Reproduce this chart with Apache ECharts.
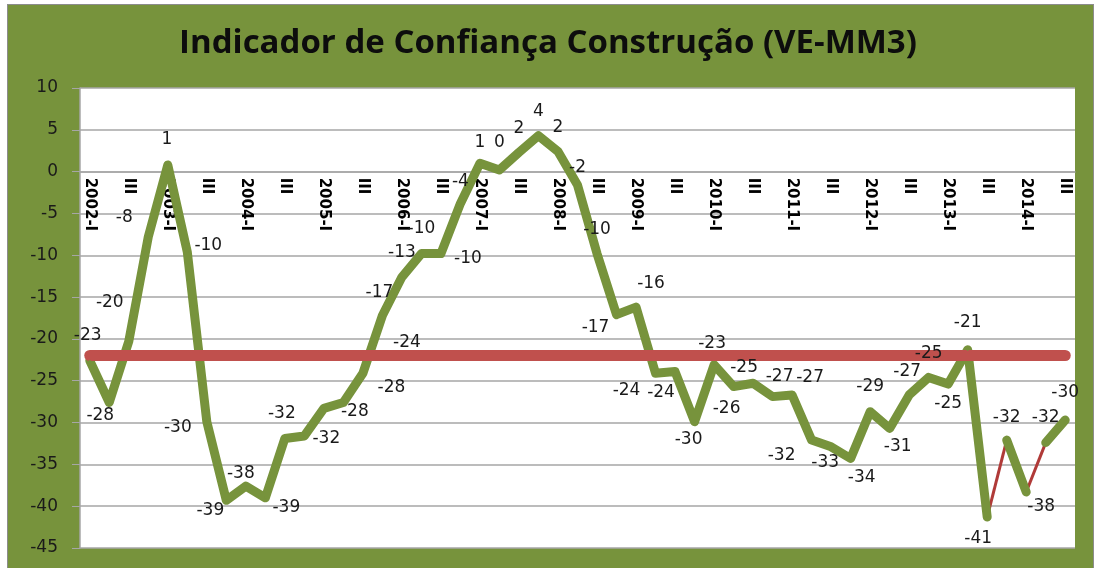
<!DOCTYPE html>
<html>
<head>
<meta charset="utf-8">
<script src="https://cdn.jsdelivr.net/npm/echarts@6/dist/echarts.min.js"></script>
<style>
html, body { margin: 0; padding: 0; background: #fff; }
#frame { position: absolute; left: 7px; top: 4px; width: 1085px; height: 570px; background: #77933C; border: 1px solid #8c8c8c; }
#chart { position: absolute; left: 0; top: 0; width: 1096px; height: 568px; }
</style>
</head>
<body>
<div id="frame"></div>
<div id="chart"></div>
<script>
// quarterly series, 2002-I .. 2014-III
var years = [2002, 2003, 2004, 2005, 2006, 2007, 2008, 2009, 2010, 2011, 2012, 2013, 2014];
var quarters = ['I', 'II', 'III', 'IV'];
var values = [
  -22.6, -27.6, -20.3, -7.8, 0.8, -9.6, -29.9, -39.3, -37.6, -39.0,
  -31.9, -31.6, -28.3, -27.6, -24.1, -17.2, -12.6, -9.8, -9.8, -3.8,
  1.0, 0.2, 2.3, 4.3, 2.4, -1.6, -9.8, -17.1, -16.2, -24.1,
  -23.9, -29.9, -23.1, -25.7, -25.3, -26.9, -26.7, -32.1, -32.9, -34.3,
  -28.7, -30.7, -26.7, -24.6, -25.4, -21.3, -41.3, -32.1, -38.3, -32.4,
  -29.7
];
var average = -22;

// green (thick) and red (thin) pieces of the line, as [from, to] indexes
var thickParts = [[0, 46], [47, 48], [49, 50]];
var thinParts = [[46, 47], [48, 49]];

// where each data label sits relative to its point, in px
var labelOffsets = [
  [-2, -25], [-9, 13], [-19, -39], [-24, -19], [-1, -25], [21, -6], [-29, 6], [-16, 10], [-5, -13], [21, 10],
  [-3, -25], [22, 3], [31, 3], [48, -15], [44, -31], [-3, -23], [0, -24], [0, -25], [27, 5], [0, -22],
  [0, -21], [0, -27], [0, -24], [0, -24], [0, -24], [0, -17], [0, -24], [-21, 13], [15, -24], [-29, 17],
  [-14, 21], [-6, 18], [-2, -21], [-7, 22], [-9, -16], [7, -20], [18, -17], [-30, 15], [-6, 16], [11, 19],
  [0, -25], [8, 18], [-2, -23], [0, -24], [0, 20], [0, -27], [-9, 22], [0, -23], [15, 15], [0, -25],
  [0, -27]
];

var cats = [];
years.forEach(function (y) {
  quarters.forEach(function (q) { cats.push(y + '-' + q); });
});
cats = cats.slice(0, values.length);

var GREEN = '#77933C';
var RED = '#C0504D';
var GRID_TOP = 88;

function part(range) {
  return values.map(function (v, i) {
    return (i >= range[0] && i <= range[1]) ? v : null;
  });
}

var series = [];
thinParts.forEach(function (r) {
  series.push({
    type: 'line', data: part(r), symbol: 'none', z: 2,
    lineStyle: { color: '#B03A38', width: 3 }
  });
});
thickParts.forEach(function (r) {
  series.push({
    type: 'line', data: part(r), symbol: 'none', z: 3,
    lineStyle: { color: GREEN, width: 9, cap: 'round', join: 'round' }
  });
});
// average line
series.push({
  type: 'line', data: values, symbol: 'none', z: 4,
  lineStyle: { opacity: 0 },
  markLine: {
    silent: true, symbol: 'none', z: 5,
    label: { show: false },
    lineStyle: { color: RED, width: 11, type: 'solid', cap: 'round' },
    data: [[{ xAxis: cats[0], yAxis: average }, { xAxis: cats[cats.length - 1], yAxis: average }]]
  }
});
// data labels on top
series.push({
  type: 'line', z: 10, symbol: 'circle', symbolSize: 2,
  itemStyle: { color: GREEN },
  lineStyle: { opacity: 0 },
  data: values.map(function (v, i) {
    return { value: v, label: { offset: labelOffsets[i] } };
  }),
  label: {
    show: true, position: 'inside',
    fontFamily: 'DejaVu Sans', fontSize: 17, color: '#1a1a1a',
    formatter: function (p) { return String(Math.round(p.value)); }
  }
});

var chart = echarts.init(document.getElementById('chart'));
chart.setOption({
  animation: false,
  title: {
    text: 'Indicador de Confiança Construção (VE-MM3)',
    left: 'center', top: 22,
    textStyle: { fontFamily: 'Open Sans', fontWeight: 'bold', fontSize: 33, color: '#0d0d0d' }
  },
  grid: {
    left: 80, right: 21, top: GRID_TOP, bottom: 20, outerBoundsMode: 'none',
    show: true, backgroundColor: '#fff', borderWidth: 0
  },
  xAxis: {
    type: 'category', data: cats, boundaryGap: true, position: 'top', offset: 0,
    axisLine: { onZero: false, lineStyle: { color: '#a6a6a6', width: 1.5 } },
    axisTick: { interval: 0, length: 6, inside: true, lineStyle: { color: '#a6a6a6' } },
    axisLabel: {
      interval: 1, rotate: 90, margin: 6, inside: true,
      fontFamily: 'DejaVu Sans', fontWeight: 'bold', fontSize: 15, color: '#000',
      formatter: function (v) {
        var q = v.split('-')[1];
        return q === 'I' ? v : q;
      }
    }
  },
  yAxis: {
    type: 'value', min: -45, max: 10, interval: 5,
    axisLine: { show: true, lineStyle: { color: '#a6a6a6', width: 1.5 } },
    axisTick: { show: true, length: 8, lineStyle: { color: '#a6a6a6' } },
    axisLabel: { margin: 22, fontFamily: 'DejaVu Sans', fontSize: 17, color: '#1a1a1a' },
    splitLine: { lineStyle: { color: '#a6a6a6', width: 1.5 } }
  },
  series: series
});

// move the category axis down onto the value 0 of the y axis
var y0 = chart.convertToPixel({ yAxisIndex: 0 }, 0);
chart.setOption({ xAxis: { offset: GRID_TOP - y0 } });
</script>
</body>
</html>
